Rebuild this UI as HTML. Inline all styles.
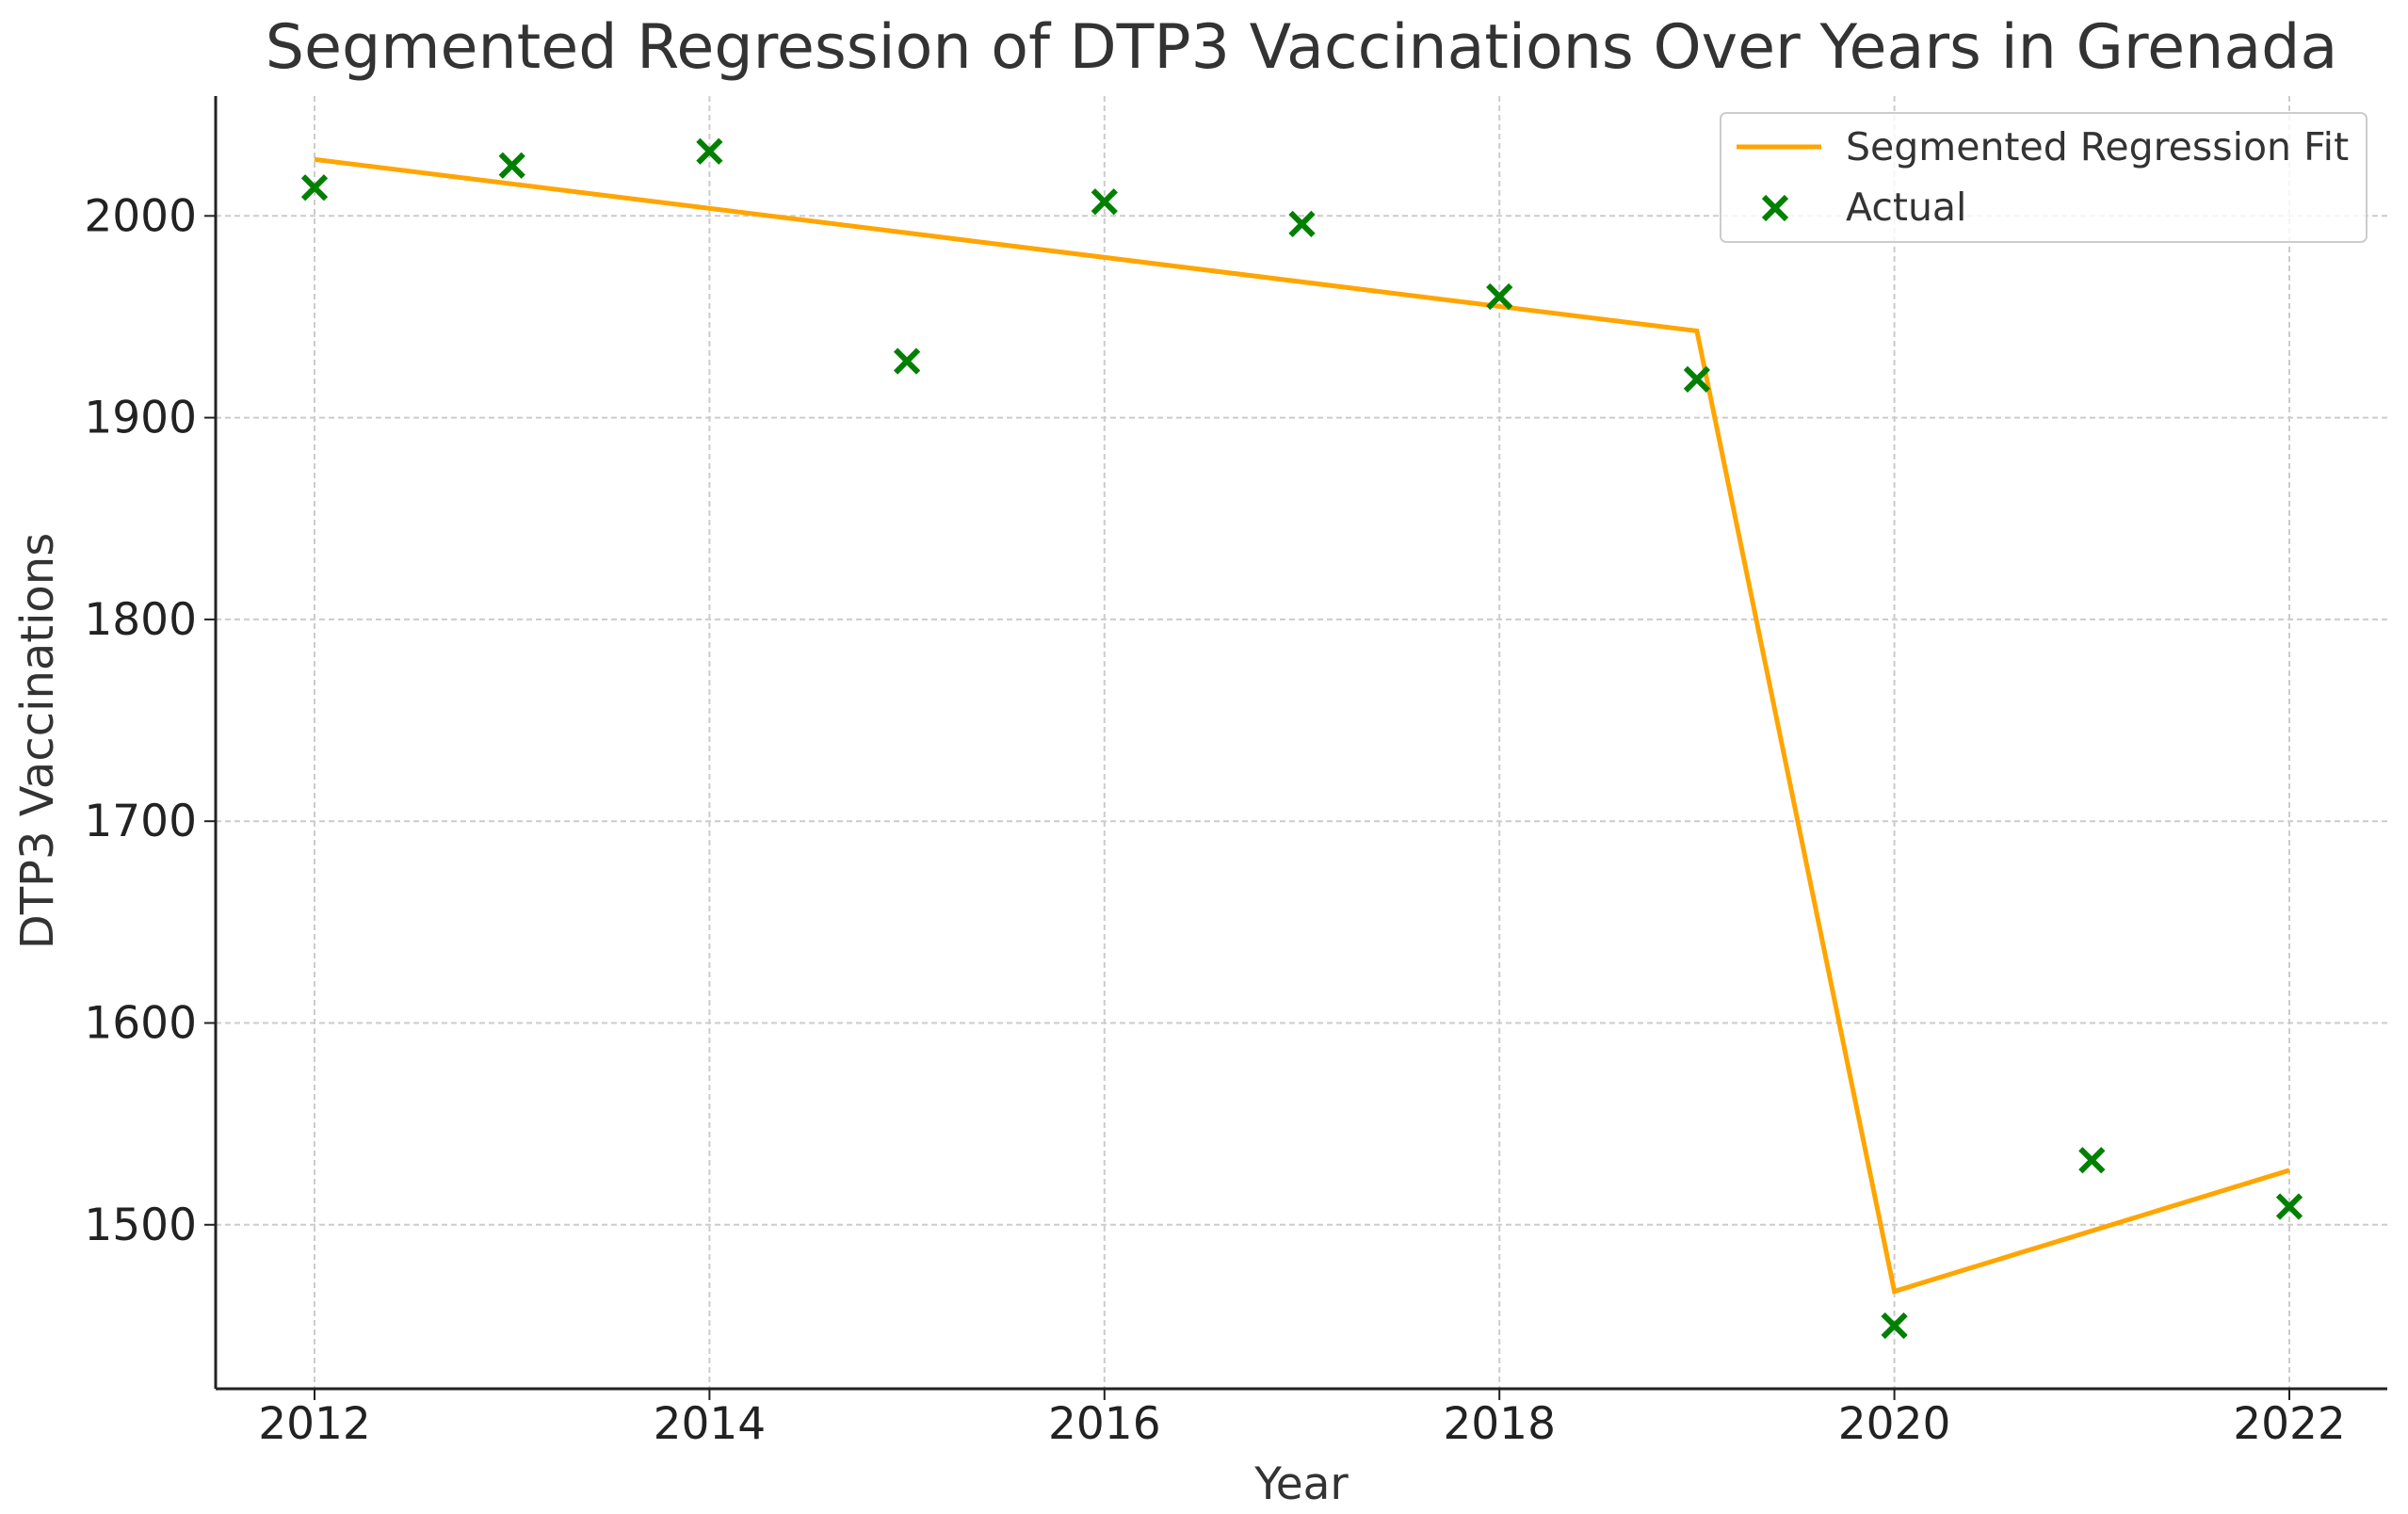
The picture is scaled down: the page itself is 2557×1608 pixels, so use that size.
<!DOCTYPE html>
<html><head><meta charset="utf-8"><style>
html,body{margin:0;padding:0;background:#fff}
svg{display:block;font-family:"DejaVu Sans","Liberation Sans",sans-serif}
</style></head><body>
<svg id="chart" width="2557" height="1608" viewBox="0 0 2557 1608" xmlns="http://www.w3.org/2000/svg">
<rect width="2557" height="1608" fill="#fff"/>
<text x="1382" y="72" text-anchor="middle" font-size="65" fill="#333">Segmented Regression of DTP3 Vaccinations Over Years in Grenada</text>
<g id="grid"></g>
<g id="axes"></g>
<g id="series"></g>
<text x="1382" y="1592" text-anchor="middle" font-size="47" fill="#333">Year</text>
<text transform="translate(56,787) rotate(-90)" text-anchor="middle" font-size="48" fill="#333">DTP3 Vaccinations</text>
<g>
<rect x="1827" y="120" width="686" height="137" rx="6" fill="#fff" fill-opacity="0.8" stroke="#ccc" stroke-width="2"/>
<line x1="1844" y1="156" x2="1934" y2="156" stroke="#FFA500" stroke-width="5"/>
<text x="1960" y="170" font-size="41" fill="#333">Segmented Regression Fit</text>
<path d="M1873 209 L1897 233 M1897 209 L1873 233" stroke="#008000" stroke-width="6"/>
<text x="1960" y="234" font-size="41" fill="#333">Actual</text>
</g>
</svg>
<script>
const years = [2012,2013,2014,2015,2016,2017,2018,2019,2020,2021,2022];
const actual = [2014,2025,2032,1928,2007,1996,1960,1919,1450,1532,1509];
const fitYears = [2012,2019,2020,2022];
const fitValues = [2028,1943,1467,1527];
const xTicks = [2012,2014,2016,2018,2020,2022];
const yTicks = [1500,1600,1700,1800,1900,2000];

const L=229,R=2535,T=102,B=1475;
const xs = v => 334 + (v-2012)*209.7;
const ys = v => 229.3 + (2000-v)*2.143;
const NS='http://www.w3.org/2000/svg';
function mk(tag,attrs,parent){const e=document.createElementNS(NS,tag);for(const k in attrs)e.setAttribute(k,attrs[k]);parent.appendChild(e);return e;}
const grid=document.getElementById('grid'),axes=document.getElementById('axes'),series=document.getElementById('series');
xTicks.forEach(t=>{
  const x=xs(t);
  const g=mk('line',{x1:x,y1:T,x2:x,y2:B,stroke:'#ccc','stroke-width':2,'stroke-dasharray':'6,4'},grid);
  
  
  const tk=mk('line',{x1:x,y1:B,x2:x,y2:B+12,stroke:'#222','stroke-width':2},axes);
  
  
  const lb=mk('text',{x:x,y:1528,'text-anchor':'middle','font-size':47,fill:'#222'},axes);
  lb.textContent=t;
  
  
});
yTicks.forEach(t=>{
  const y=ys(t);
  const g=mk('line',{x1:L,y1:y,x2:R,y2:y,stroke:'#ccc','stroke-width':2,'stroke-dasharray':'6,4'},grid);
  
  
  const tk=mk('line',{x1:L-12,y1:y,x2:L,y2:y,stroke:'#222','stroke-width':2},axes);
  
  
  const lb=mk('text',{x:L-20,y:y+16,'text-anchor':'end','font-size':47,fill:'#222'},axes);
  lb.textContent=t;
  
  
});
const la=mk('line',{x1:L,y1:T,x2:L,y2:B,stroke:'#222','stroke-width':3},axes);


const ba=mk('line',{x1:L,y1:B,x2:R,y2:B,stroke:'#222','stroke-width':3},axes);


const pts=fitYears.map((y,i)=>xs(y)+','+ys(fitValues[i])).join(' ');
const pl=mk('polyline',{points:pts,fill:'none',stroke:'#FFA500','stroke-width':5,'stroke-linejoin':'miter'},series);


years.forEach((yr,i)=>{
  const x=xs(yr),y=ys(actual[i]),s=12;
  const m=mk('path',{d:`M${x-s} ${y-s} L${x+s} ${y+s} M${x+s} ${y-s} L${x-s} ${y+s}`,stroke:'#008000','stroke-width':6},series);
  
  
});
</script>
</body></html>
